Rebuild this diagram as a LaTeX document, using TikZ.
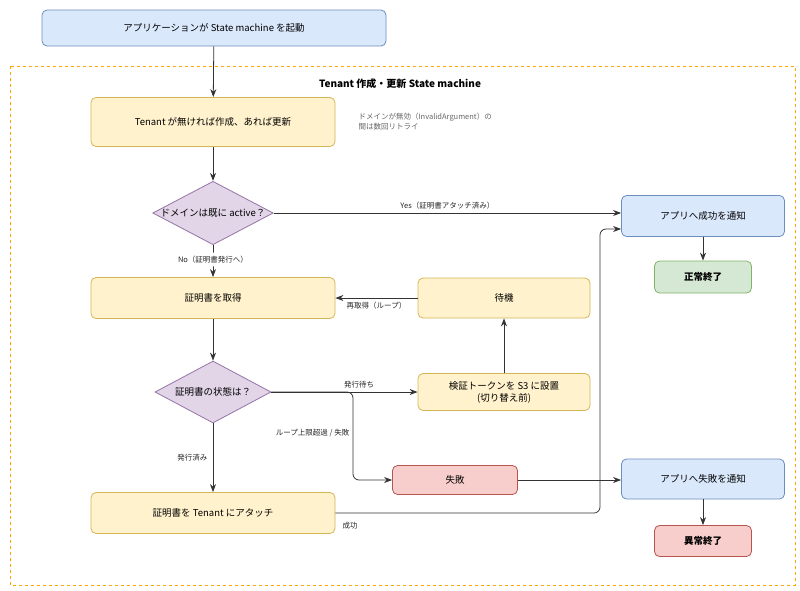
\documentclass[tikz,border=0pt]{standalone}
\usepackage{fontspec}
\setmainfont{Noto Sans CJK JP}
\usetikzlibrary{shapes.geometric,arrows.meta}
\definecolor{bF}{HTML}{DAE8FC}\definecolor{bD}{HTML}{6C8EBF}
\definecolor{yF}{HTML}{FFF2CC}\definecolor{yD}{HTML}{D6B656}
\definecolor{pF}{HTML}{E1D5E7}\definecolor{pD}{HTML}{9673A6}
\definecolor{rF}{HTML}{F8CECC}\definecolor{rD}{HTML}{B85450}
\definecolor{gF}{HTML}{D5E8D4}\definecolor{gD}{HTML}{82B366}
\tikzset{
 bx/.style={draw, rounded corners=5pt, line width=0.8pt, align=center, font=\fontsize{9.5}{12}\selectfont, inner sep=0pt},
 blu/.style={bx, fill=bF, draw=bD},
 yel/.style={bx, fill=yF, draw=yD},
 red/.style={bx, fill=rF, draw=rD},
 grn/.style={bx, fill=gF, draw=gD},
 dia/.style={diamond, draw=pD, fill=pF, line width=0.8pt, font=\fontsize{9.5}{12}\selectfont, inner sep=0pt, aspect=1.9},
 ar/.style={-{Stealth[length=8pt,width=6pt]}, line width=0.8pt, draw=black!80, rounded corners=6pt},
 lb/.style={font=\fontsize{7.5}{9}\selectfont, text=black!85}
}
\begin{document}
\begin{tikzpicture}[x=1pt,y=-1pt]
\useasboundingbox (0,0) rectangle (800,590);
\draw[dashed, draw=orange!70!yellow, line width=0.7pt] (10,66) rectangle (795,585);
\node[font=\bfseries\fontsize{10}{12}\selectfont] (title) at (400,84) {Tenant 作成・更新 State machine};
\node[blu, minimum width=344, minimum height=36] (start) at (214,28) {アプリケーションが State machine を起動};
\node[yel, minimum width=244, minimum height=49] (n1) at (213,122) {Tenant が無ければ作成、あれば更新};
\node[anchor=north west, align=left, text=black!60, font=\fontsize{7.5}{10}\selectfont] (note) at (355,110) {ドメインが無効（\textit{InvalidArgument}）の\\間は数回リトライ};
\node[dia, minimum width=116, minimum height=60] (d1) at (213,213) {ドメインは既に active？};
\node[yel, minimum width=244, minimum height=41] (n2) at (213,298) {証明書を取得};
\node[dia, minimum width=116, minimum height=62] (d2) at (213,392) {証明書の状態は？};
\node[yel, minimum width=244, minimum height=41] (att) at (213,513) {証明書を Tenant にアタッチ};
\node[yel, minimum width=172, minimum height=40] (wait) at (504,298) {待機};
\node[yel, minimum width=172, minimum height=37] (tok) at (504,392) {検証トークンを S3 に設置\\(切り替え前)};
\node[red, minimum width=125, minimum height=29] (fail) at (455,480) {失敗};
\node[blu, minimum width=163, minimum height=41] (ok) at (703,216) {アプリへ成功を通知};
\node[grn, minimum width=97, minimum height=32, font=\bfseries\fontsize{9.5}{12}\selectfont] (okend) at (703,277) {正常終了};
\node[blu, minimum width=163, minimum height=40] (ng) at (703,479) {アプリへ失敗を通知};
\node[red, minimum width=97, minimum height=31, font=\bfseries\fontsize{9.5}{12}\selectfont] (ngend) at (703,541) {異常終了};
\draw[ar] (start) -- (n1);
\draw[ar] (n1) -- (d1);
\draw[ar] (d1) -- node[lb, fill=white, pos=0.45]{No（証明書発行へ）} (n2);
\draw[ar] (d1) -- node[lb, above]{Yes（証明書アタッチ済み）} (ok.west |- d1);
\draw[ar] (n2) -- (d2);
\draw[ar] (d2) -- node[lb, left, pos=0.5, xshift=-2pt]{発行済み} (att);
\draw[ar] (d2.east) -- node[lb, above, pos=0.6]{発行待ち} (tok.west);
\draw[ar] (tok) -- (wait);
\draw[ar] (wait) -- node[lb, below]{再取得（ループ）} (n2);
\draw[ar] (d2.east) -- (353,392) -- node[lb, left, pos=0.47]{ループ上限超過 / 失敗} (353,480) -- (fail.west);
\draw[ar] (fail) -- (ng.west |- fail);
\draw[ar] (att.east) -- (600,513) -- (600,229) -- (ok.west |- 0,229);
\node[lb] (succ) at (350,526) {成功};
\draw[ar] (ok) -- (okend);
\draw[ar] (ng) -- (ngend);
\end{tikzpicture}
\end{document}
